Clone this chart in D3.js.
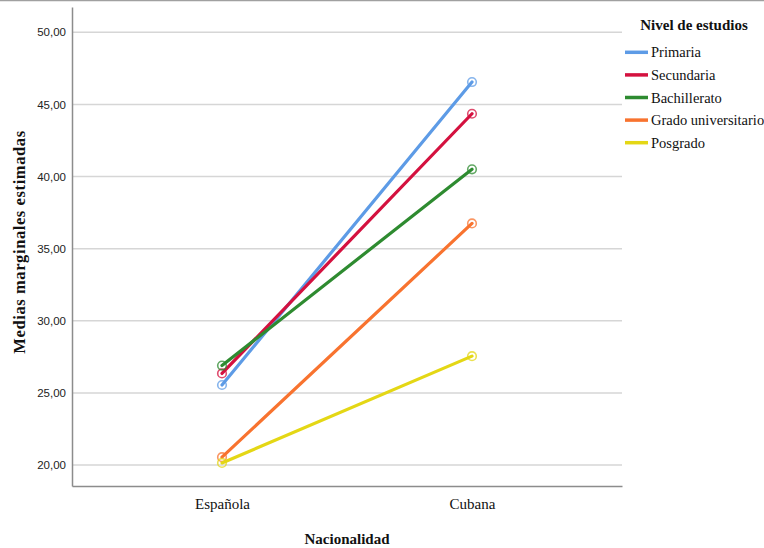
<!DOCTYPE html>
<html>
<head>
<meta charset="utf-8">
<script src="https://cdn.jsdelivr.net/npm/d3@7"></script>
<style>
  body { margin: 0; background: #fff; }
  svg { display: block; }
</style>
</head>
<body>
<div id="chart"></div>
<script>
// Data
const nationalities = ["Española", "Cubana"];
const levels = ["Primaria", "Secundaria", "Bachillerato", "Grado universitario", "Posgrado"];
const espanola = [25.55, 26.35, 26.9, 20.55, 20.15];
const cubana = [46.55, 44.35, 40.5, 36.75, 27.55];
const yTicks = [20, 25, 30, 35, 40, 45, 50];

const colors = ["#5d9be6", "#d4113f", "#2e8b30", "#f8732f", "#e4d715"];

const width = 764, height = 548;
const margin = { left: 72, right: 142, top: 7, bottom: 62 };

const svg = d3.select("#chart").append("svg")
  .attr("width", width)
  .attr("height", height);

// frame line on top of picture
svg.append("line")
  .attr("x1", 0).attr("x2", width)
  .attr("y1", 0.5).attr("y2", 0.5)
  .attr("stroke", "#a0a0a0").attr("stroke-width", 1.5);

const x = d3.scalePoint()
  .domain(nationalities)
  .range([margin.left, width - margin.right])
  .padding(0.6);

const y = d3.scaleLinear()
  .domain([18.55, 51.75])
  .range([height - margin.bottom, margin.top]);

// gridlines
svg.append("g")
  .selectAll("line")
  .data(yTicks)
  .enter().append("line")
  .attr("x1", margin.left)
  .attr("x2", width - margin.right)
  .attr("y1", d => y(d))
  .attr("y2", d => y(d))
  .attr("stroke", "#d6d6d6")
  .attr("stroke-width", 1.5);

// y axis
const yAxis = svg.append("g")
  .attr("transform", `translate(${margin.left},0)`)
  .call(d3.axisLeft(y).tickValues(yTicks).tickSize(0).tickPadding(6)
    .tickFormat(d => d3.format(".2f")(d).replace(".", ",")));
yAxis.select(".domain").attr("stroke", "#8c8c8c").attr("stroke-width", 1.5);
yAxis.selectAll("text")
  .attr("font-family", "Liberation Sans, Arial, sans-serif")
  .attr("font-size", 11.5)
  .attr("fill", "#222");

// x axis
const xAxis = svg.append("g")
  .attr("transform", `translate(0,${height - margin.bottom})`)
  .call(d3.axisBottom(x).tickSize(0).tickPadding(12));
xAxis.select(".domain").attr("stroke", "#8c8c8c").attr("stroke-width", 1.5);
xAxis.selectAll("text")
  .attr("font-family", "Liberation Serif, Times New Roman, serif")
  .attr("font-size", 15)
  .attr("fill", "#111");

// axis titles
svg.append("text")
  .attr("x", 347)
  .attr("y", 544)
  .attr("text-anchor", "middle")
  .attr("font-family", "Liberation Serif, Times New Roman, serif")
  .attr("font-weight", "bold")
  .attr("font-size", 15)
  .attr("fill", "#111")
  .text("Nacionalidad");

svg.append("text")
  .attr("transform", "translate(25,242) rotate(-90)")
  .attr("text-anchor", "middle")
  .attr("font-family", "Liberation Serif, Times New Roman, serif")
  .attr("font-weight", "bold")
  .attr("font-size", 16.5)
  .attr("letter-spacing", 0.6)
  .attr("fill", "#111")
  .text("Medias marginales estimadas");

// series
const series = levels.map((lvl, i) => ({
  level: lvl,
  color: colors[i],
  values: [
    { nat: nationalities[0], v: espanola[i] },
    { nat: nationalities[1], v: cubana[i] }
  ]
}));

const line = d3.line()
  .x(d => x(d.nat))
  .y(d => y(d.v));

const g = svg.selectAll(".series")
  .data(series)
  .enter().append("g")
  .attr("class", "series");

g.append("path")
  .attr("d", d => line(d.values))
  .attr("fill", "none")
  .attr("stroke", d => d.color)
  .attr("stroke-width", 3.2)
  .attr("stroke-linecap", "round");

g.selectAll("circle")
  .data(d => d.values.map(p => ({ ...p, color: d.color })))
  .enter().append("circle")
  .attr("cx", d => x(d.nat))
  .attr("cy", d => y(d.v))
  .attr("r", 4.3)
  .attr("fill", "none")
  .attr("stroke", d => d.color)
  .attr("stroke-opacity", 0.75)
  .attr("stroke-width", 1.6);

// legend
const legend = svg.append("g");
legend.append("text")
  .attr("x", 694)
  .attr("y", 30)
  .attr("text-anchor", "middle")
  .attr("font-family", "Liberation Serif, Times New Roman, serif")
  .attr("font-weight", "bold")
  .attr("font-size", 15)
  .attr("fill", "#111")
  .text("Nivel de estudios");

const items = legend.selectAll(".item")
  .data(series)
  .enter().append("g")
  .attr("class", "item")
  .attr("transform", (d, i) => `translate(625, ${52.3 + i * 22.6})`);

items.append("line")
  .attr("x1", 0).attr("x2", 23)
  .attr("stroke", d => d.color)
  .attr("stroke-width", 3.5);

items.append("text")
  .attr("x", 26)
  .attr("y", 5)
  .attr("font-family", "Liberation Serif, Times New Roman, serif")
  .attr("font-size", 14.5)
  .attr("fill", "#111")
  .text(d => d.level);
</script>
</body>
</html>
